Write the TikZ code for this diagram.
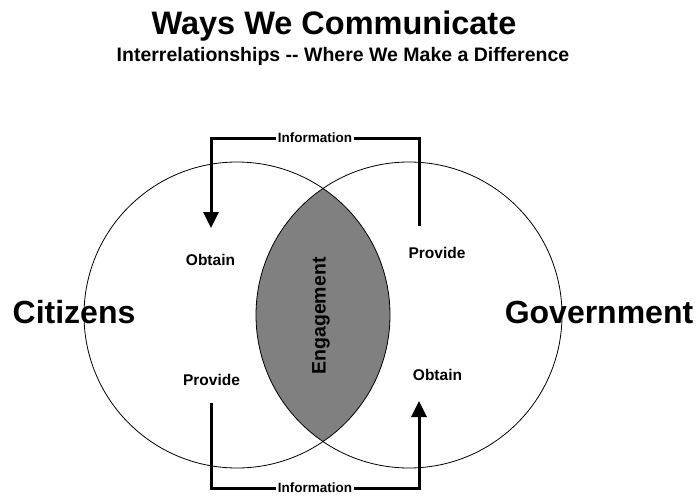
\documentclass[tikz,border=0pt]{standalone}
\usepackage{fontspec}
\setmainfont{Liberation Sans}
\usetikzlibrary{arrows.meta}
\tikzset{
  lbl/.style={font=\bfseries\fontsize{15.5}{18}\selectfont, anchor=base, inner sep=0pt},
  big/.style={font=\bfseries\fontsize{32}{38}\selectfont, anchor=base, inner sep=0pt},
  info/.style={font=\bfseries\fontsize{13.5}{15}\selectfont, fill=white, inner xsep=1.5pt, inner ysep=0.5pt},
  ring/.style={circle, draw=black, line width=0.8pt, minimum size=306pt, inner sep=0pt},
  flow/.style={line width=3pt, -{Triangle[length=16pt,width=15pt]}},
}
\begin{document}
\begin{tikzpicture}[x=1pt,y=-1pt]
\useasboundingbox (0,0) rectangle (698,495);
% lens
\begin{scope}
  \clip (237,315) circle[radius=153pt];
  \fill[black!50] (409,315) circle[radius=153pt];
\end{scope}
% circles
\node[ring] (cit) at (237,315) {};
\node[ring] (gov) at (409,315) {};
% titles
\node[font=\bfseries\fontsize{32.5}{36}\selectfont, anchor=base, inner sep=0pt] (title) at (334,35) {Ways We Communicate};
\node[font=\bfseries\fontsize{19.5}{23}\selectfont, anchor=base, inner sep=0pt] (sub) at (343,62) {Interrelationships -{}- Where We Make a Difference};
% big labels
\node[big] (citizens) at (74,323) {Citizens};
\node[big] (government) at (599,323) {Government};
% small labels
\node[lbl] (obtL) at (210.5,265) {Obtain};
\node[lbl] (provL) at (211.5,385.5) {Provide};
\node[lbl] (provR) at (437,258) {Provide};
\node[lbl] (obtR) at (437.5,380) {Obtain};
% engagement
\node[font=\bfseries\fontsize{19.5}{23}\selectfont, rotate=90, inner sep=0pt] (eng) at (321,316) {Engagement};
% arrows
\coordinate (tR) at (419,226);
\coordinate (tRc) at (419,138);
\coordinate (tLc) at (211,138);
\coordinate (tL) at (211,228);
\draw[flow] (tR) -- (tRc) -- (tLc) -- (tL);
\node[info] (infoT) at (315,138) {Information};
\coordinate (bL) at (211,403);
\coordinate (bLc) at (211,488);
\coordinate (bRc) at (419,488);
\coordinate (bR) at (419,401);
\draw[flow] (bL) -- (bLc) -- (bRc) -- (bR);
\node[info] (infoB) at (315,488) {Information};
\end{tikzpicture}
\end{document}
